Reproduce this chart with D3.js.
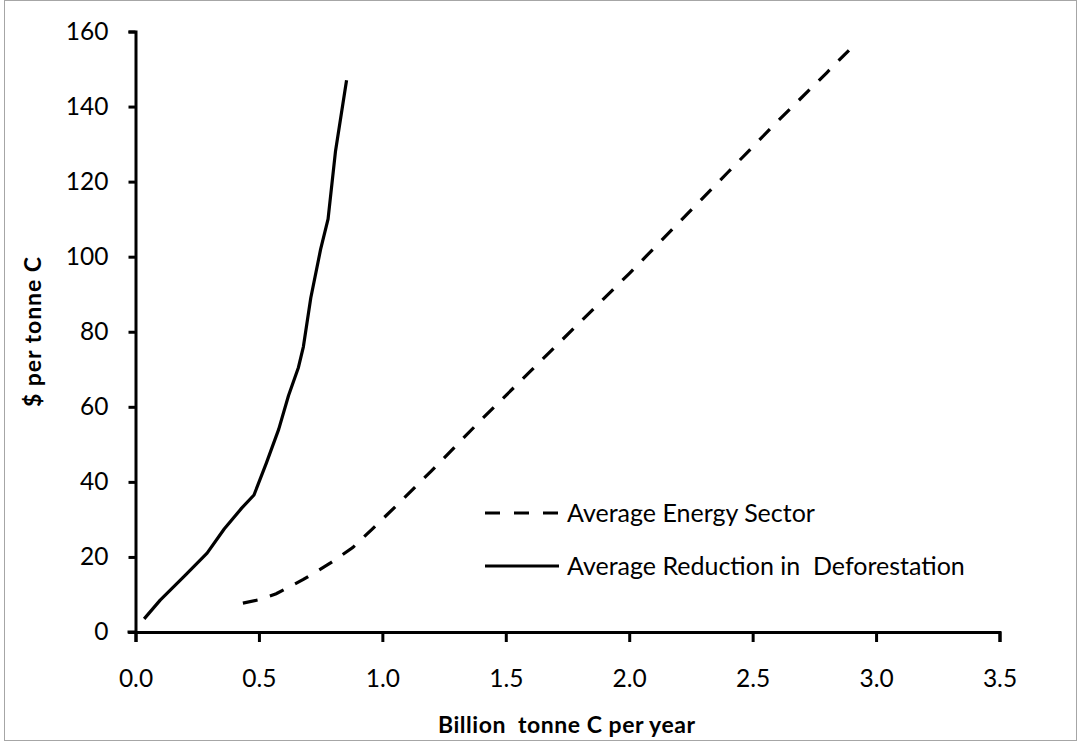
<!DOCTYPE html>
<html>
<head>
<meta charset="utf-8">
<script src="https://cdn.jsdelivr.net/npm/d3@7"></script>
<style>
  html, body { margin: 0; padding: 0; background: #fff; }
  svg { display: block; }
  text { font-family: Lato, "Open Sans", sans-serif; fill: #000; }
</style>
</head>
<body>
<svg id="chart" width="1078" height="742"></svg>
<script>
// ---- data ----
const energyX = [0.435, 0.5, 0.57, 0.68, 0.79, 0.88, 0.96, 1.07, 1.2, 1.4, 1.6, 1.8, 2.0, 2.2, 2.4, 2.6, 2.8, 2.89];
const energyY = [7.7, 8.6, 10.2, 14, 18.4, 22.5, 27.5, 34.5, 43, 56.5, 69.5, 82.5, 95.5, 109, 122.5, 136, 149, 155];
const deforX = [0.035, 0.1, 0.2, 0.29, 0.36, 0.43, 0.48, 0.53, 0.58, 0.62, 0.66, 0.68, 0.71, 0.75, 0.78, 0.81, 0.855];
const deforY = [3.5, 8.5, 15, 21, 27.5, 33, 36.5, 45, 54, 63, 70.5, 76, 89, 102, 110, 128, 147];
const xTicks = [0, 0.5, 1.0, 1.5, 2.0, 2.5, 3.0, 3.5];
const yTicks = [0, 20, 40, 60, 80, 100, 120, 140, 160];
const seriesNames = ["Average Energy Sector", "Average Reduction in  Deforestation"];
const xTitle = "Billion  tonne C per year";
const yTitle = "$ per tonne C";

const svg = d3.select("#chart");

// outer border
svg.append("rect")
  .attr("x", 4.5).attr("y", 0.5).attr("width", 1072).attr("height", 740)
  .attr("fill", "#fff").attr("stroke", "#a6a6a6").attr("stroke-width", 1);

const x = d3.scaleLinear().domain([0, 3.5]).range([135.5, 999.5]);
const y = d3.scaleLinear().domain([0, 160]).range([632, 31.5]);

const FS = 24.5;

// x axis
const gx = svg.append("g").attr("transform", `translate(0,${y(0)})`)
  .call(d3.axisBottom(x).tickValues(xTicks).tickFormat(d3.format(".1f"))
        .tickSizeInner(10).tickSizeOuter(10).tickPadding(28));
// y axis
const gy = svg.append("g").attr("transform", `translate(${x(0)},0)`)
  .call(d3.axisLeft(y).tickValues(yTicks).tickFormat(d3.format("d"))
        .tickSizeInner(7).tickSizeOuter(7).tickPadding(20));

[gx, gy].forEach(g => {
  g.select(".domain").attr("stroke", "#000").attr("stroke-width", 3).attr("fill", "none");
  g.selectAll(".tick line").attr("stroke", "#000").attr("stroke-width", 3);
  g.selectAll(".tick text").attr("font-family", "Lato, sans-serif").attr("font-size", FS).attr("fill", "#000");
});
// x axis line also extends left across the y-axis tick at 0
svg.append("line")
  .attr("x1", x(0) - 8).attr("x2", x(0)).attr("y1", y(0)).attr("y2", y(0))
  .attr("stroke", "#000").attr("stroke-width", 3);

// lines
const line = d3.line().x(d => x(d[0])).y(d => y(d[1]));
const energy = energyX.map((v, i) => [v, energyY[i]]);
const defor = deforX.map((v, i) => [v, deforY[i]]);

svg.append("path").datum(energy).attr("d", line)
  .attr("fill", "none").attr("stroke", "#000").attr("stroke-width", 3.2)
  .attr("stroke-dasharray", "15,13");
svg.append("path").datum(defor).attr("d", line)
  .attr("fill", "none").attr("stroke", "#000").attr("stroke-width", 3.2)
  .attr("stroke-linejoin", "round");

// legend
const legend = svg.append("g");
const legendRows = [
  { name: seriesNames[0], dash: "15,14", yPos: 513 },
  { name: seriesNames[1], dash: null, yPos: 566 }
];
legendRows.forEach(r => {
  const l = legend.append("line")
    .attr("x1", 485).attr("x2", 559).attr("y1", r.yPos).attr("y2", r.yPos)
    .attr("stroke", "#000").attr("stroke-width", 3.2);
  if (r.dash) l.attr("stroke-dasharray", r.dash);
  legend.append("text")
    .attr("x", 567).attr("y", r.yPos).attr("dy", "0.35em")
    .attr("font-size", 25).style("white-space", "pre")
    .text(r.name);
});

// axis titles
svg.append("text")
  .attr("x", 566.5).attr("y", 733)
  .attr("text-anchor", "middle").attr("font-weight", "bold").attr("font-size", 23)
  .attr("textLength", 257).attr("lengthAdjust", "spacing")
  .style("white-space", "pre")
  .text(xTitle);
svg.append("text")
  .attr("transform", "translate(41,332) rotate(-90)")
  .attr("text-anchor", "middle").attr("font-weight", "bold").attr("font-size", 23)
  .attr("textLength", 150).attr("lengthAdjust", "spacing")
  .text(yTitle);
</script>
</body>
</html>
